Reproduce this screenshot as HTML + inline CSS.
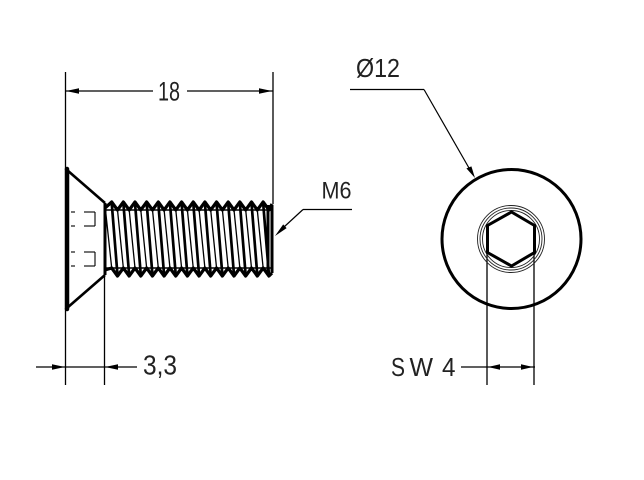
<!DOCTYPE html>
<html>
<head>
<meta charset="utf-8">
<style>
html,body{margin:0;padding:0;background:#fff;}
svg{display:block;}
text{font-family:"Liberation Sans","DejaVu Sans",sans-serif;fill:#222;}
</style>
</head>
<body>
<svg width="644" height="480" viewBox="0 0 644 480" xmlns="http://www.w3.org/2000/svg">
<rect width="644" height="480" fill="#fff"/>

<!-- extension lines -->
<g stroke="#000" stroke-width="1.3" fill="none">
  <line x1="65.5" y1="72" x2="65.5" y2="170"/>
  <line x1="65.5" y1="308" x2="65.5" y2="385"/>
  <line x1="104.5" y1="276" x2="104.5" y2="385"/>
  <line x1="273" y1="72" x2="273" y2="204"/>
  <line x1="487" y1="253" x2="487" y2="385"/>
  <line x1="534" y1="253" x2="534" y2="385"/>
</g>

<!-- dimension 18 -->
<g stroke="#000" stroke-width="1.3">
  <line x1="65" y1="91" x2="153" y2="91"/>
  <line x1="187" y1="91" x2="273" y2="91"/>
</g>
<polygon points="66,91 79,88.3 79,93.7" fill="#000"/>
<polygon points="272,91 259,88.3 259,93.7" fill="#000"/>
<text x="158" y="100.5" font-size="27" textLength="22" lengthAdjust="spacingAndGlyphs">18</text>

<!-- dimension 3,3 -->
<line x1="36" y1="367" x2="137" y2="367" stroke="#000" stroke-width="1.3"/>
<polygon points="65,367 52,364.3 52,369.7" fill="#000"/>
<polygon points="105,367 118,364.3 118,369.7" fill="#000"/>
<text x="143" y="374.5" font-size="28" textLength="34" lengthAdjust="spacingAndGlyphs">3,3</text>

<!-- dimension SW 4 -->
<line x1="461" y1="367" x2="535" y2="367" stroke="#000" stroke-width="1.3"/>
<polygon points="488,367 500,364.3 500,369.7" fill="#000"/>
<polygon points="533,367 521,364.3 521,369.7" fill="#000"/>
<text x="391" y="376" font-size="26" textLength="14" lengthAdjust="spacingAndGlyphs">S</text>
<text x="409.5" y="376" font-size="26" textLength="23.5" lengthAdjust="spacingAndGlyphs">W</text>
<text x="442" y="376" font-size="26" textLength="13.5" lengthAdjust="spacingAndGlyphs">4</text>

<!-- M6 leader -->
<g stroke="#000" stroke-width="1.2" fill="none">
  <line x1="303" y1="209.5" x2="352" y2="209.5"/>
  <line x1="303" y1="209.5" x2="284" y2="227"/>
</g>
<polygon points="275,236 283.2,224.4 286.6,228.1" fill="#000"/>
<text x="321.5" y="198.5" font-size="24" textLength="30" lengthAdjust="spacingAndGlyphs">M6</text>

<!-- Ø12 leader -->
<g stroke="#000" stroke-width="1.2" fill="none">
  <line x1="350" y1="89.5" x2="424" y2="89.5"/>
  <line x1="424" y1="89.5" x2="469" y2="168"/>
</g>
<polygon points="475,178 466.4,168.4 471.4,166.4" fill="#000"/>
<text x="356" y="77" font-size="26" textLength="44" lengthAdjust="spacingAndGlyphs">Ø12</text>

<!-- head side view -->
<line x1="67" y1="169" x2="67" y2="309" stroke="#000" stroke-width="4.5" stroke-linecap="round"/>
<g stroke="#000" stroke-width="2.6" fill="none">
  <line x1="67" y1="170" x2="105" y2="203"/>
  <line x1="67" y1="308" x2="105" y2="275"/>
  <line x1="105" y1="203" x2="105" y2="275" stroke-width="3"/>
</g>
<!-- hidden socket lines -->
<g stroke="#000" stroke-width="1.1" fill="none">
  <line x1="71" y1="212" x2="75" y2="212"/><line x1="84" y1="212" x2="95" y2="212"/>
  <line x1="71" y1="226" x2="75" y2="226"/><line x1="84" y1="226" x2="95" y2="226"/>
  <line x1="71" y1="252" x2="75" y2="252"/><line x1="84" y1="252" x2="95" y2="252"/>
  <line x1="71" y1="266" x2="75" y2="266"/><line x1="84" y1="266" x2="95" y2="266"/>
  <line x1="95" y1="212" x2="95" y2="226"/>
  <line x1="95" y1="252" x2="95" y2="266"/>
</g>

<!-- thread -->
<g stroke="#000" fill="none" stroke-linejoin="round">
  <path stroke-width="3.2" d="M105,208 L111.7,202 L117.5,210 L123.35,202 L129.2,210 L135,202 L140.8,210 L146.65,202 L152.5,210 L158.3,202 L164.1,210 L169.95,202 L175.8,210 L181.6,202 L187.4,210 L193.25,202 L199.1,210 L204.9,202 L210.7,210 L216.55,202 L222.4,210 L228.2,202 L234,210 L239.85,202 L245.7,210 L251.5,202 L257.3,210 L263.15,202 L269,210 L272,204"/>
  <path stroke-width="3.2" d="M105,270 L111.7,268 L117.5,276 L123.35,268 L129.15,276 L135,268 L140.8,276 L146.65,268 L152.45,276 L158.3,268 L164.1,276 L169.95,268 L175.75,276 L181.6,268 L187.4,276 L193.25,268 L199.05,276 L204.9,268 L210.7,276 L216.55,268 L222.35,276 L228.2,268 L234,276 L239.85,268 L245.65,276 L251.5,268 L257.3,276 L263.15,268 L268.95,276 L272,273"/>
  <line x1="105" y1="210" x2="272" y2="210" stroke-width="1.4"/>
  <line x1="105" y1="268" x2="272" y2="268" stroke-width="1.4"/>
  <path stroke-width="2.7" d="M111.7,203 L117.5,275 M123.35,203 L129.15,275 M135,203 L140.8,275 M146.65,203 L152.45,275 M158.3,203 L164.1,275 M169.95,203 L175.75,275 M181.6,203 L187.4,275 M193.25,203 L199.05,275 M204.9,203 L210.7,275 M216.55,203 L222.35,275 M228.2,203 L234,275 M239.85,203 L245.65,275 M251.5,203 L257.3,275 M263.15,203 L268.95,275"/>
  <path stroke-width="1.3" d="M105.5,210 L111.7,268 M117.5,210 L123.35,268 M129.2,210 L135,268 M140.8,210 L146.65,268 M152.5,210 L158.3,268 M164.1,210 L169.95,268 M175.8,210 L181.6,268 M187.4,210 L193.25,268 M199.1,210 L204.9,268 M210.7,210 L216.55,268 M222.4,210 L228.2,268 M234,210 L239.85,268 M245.7,210 L251.5,268 M257.3,210 L263.15,268"/>
  <line x1="268" y1="205" x2="268" y2="273" stroke-width="3"/>
  <line x1="272" y1="205" x2="272" y2="273" stroke-width="3"/>
</g>

<!-- end view -->
<circle cx="511.5" cy="239" r="69.5" stroke="#000" stroke-width="3" fill="none"/>
<g stroke="#222" stroke-width="0.9" fill="none">
  <circle cx="511" cy="239" r="33.5"/>
  <circle cx="511" cy="239" r="31"/>
  <circle cx="511" cy="239" r="28.5"/>
</g>
<polygon points="511.5,212 534.5,225.5 534.5,252.5 511.5,266 487.5,252.5 487.5,225.5" stroke="#000" stroke-width="3" fill="#fff" stroke-linejoin="miter"/>
</svg>
</body>
</html>
